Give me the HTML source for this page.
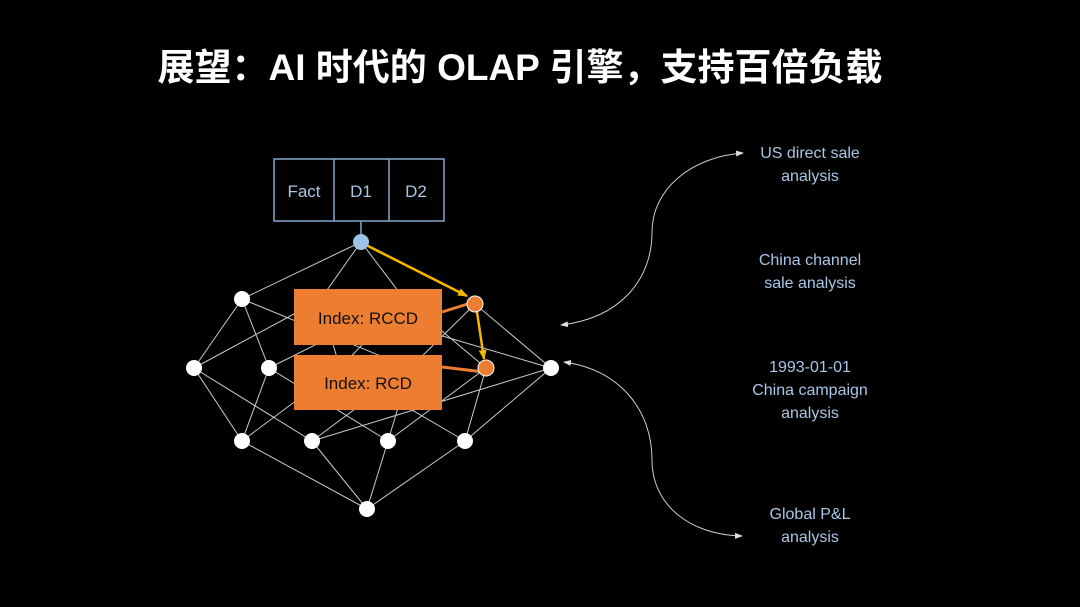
<!DOCTYPE html>
<html><head><meta charset="utf-8"><style>
html,body{margin:0;padding:0;background:#000;}
body{width:1080px;height:607px;overflow:hidden;position:relative;font-family:"Liberation Sans","Noto Sans CJK SC",sans-serif;}
.t{position:absolute;left:0;width:1040px;top:37px;text-align:center;color:#fff;font-size:37px;font-weight:bold;}
.lab{position:absolute;color:#a9c6e6;font-size:16px;text-align:center;width:200px;line-height:23px;}
</style></head><body>
<div class="t">展望：AI 时代的 OLAP 引擎，支持百倍负载</div>
<svg width="1080" height="607" style="position:absolute;left:0;top:0">
<defs>
<marker id="wa" markerWidth="8" markerHeight="8" refX="7" refY="4" orient="auto" markerUnits="userSpaceOnUse"><path d="M0,1 L8,4 L0,7z" fill="#ddd"/></marker>
<marker id="ya" markerWidth="10" markerHeight="10" refX="9" refY="5" orient="auto" markerUnits="userSpaceOnUse"><path d="M0,1 L10,5 L0,9z" fill="#f5b800"/></marker>
</defs>
<g stroke="#ccc" stroke-width="1">
<line x1="361" y1="242" x2="242" y2="299"/><line x1="361" y1="242" x2="320" y2="300"/><line x1="361" y1="242" x2="405" y2="300"/>
<line x1="242" y1="299" x2="194" y2="368"/><line x1="242" y1="299" x2="269" y2="368"/><line x1="242" y1="299" x2="410" y2="368"/>
<line x1="320" y1="300" x2="194" y2="368"/><line x1="320" y1="300" x2="340" y2="368"/><line x1="320" y1="300" x2="551" y2="368"/>
<line x1="405" y1="300" x2="269" y2="368"/><line x1="405" y1="300" x2="340" y2="368"/><line x1="405" y1="300" x2="486" y2="368"/>
<line x1="475" y1="304" x2="410" y2="368"/><line x1="475" y1="304" x2="551" y2="368"/>
<line x1="194" y1="368" x2="242" y2="441"/><line x1="194" y1="368" x2="312" y2="441"/>
<line x1="269" y1="368" x2="242" y2="441"/><line x1="269" y1="368" x2="388" y2="441"/>
<line x1="340" y1="368" x2="242" y2="441"/><line x1="340" y1="368" x2="465" y2="441"/>
<line x1="410" y1="368" x2="312" y2="441"/><line x1="410" y1="368" x2="388" y2="441"/>
<line x1="486" y1="368" x2="388" y2="441"/><line x1="486" y1="368" x2="465" y2="441"/>
<line x1="551" y1="368" x2="312" y2="441"/><line x1="551" y1="368" x2="465" y2="441"/>
<line x1="242" y1="441" x2="367" y2="509"/><line x1="312" y1="441" x2="367" y2="509"/><line x1="388" y1="441" x2="367" y2="509"/><line x1="465" y1="441" x2="367" y2="509"/>
</g>
<g stroke="#86a9cc" stroke-width="1.5" fill="none">
<rect x="274" y="159" width="170" height="62"/><line x1="334" y1="159" x2="334" y2="221"/><line x1="389" y1="159" x2="389" y2="221"/>
<line x1="361" y1="221" x2="361" y2="236"/>
</g>
<g fill="#a9c6e6" font-size="17" text-anchor="middle" font-family="Liberation Sans, sans-serif">
<text x="304" y="197">Fact</text><text x="361" y="197">D1</text><text x="416" y="197">D2</text>
</g>
<rect x="294" y="289" width="148" height="56" fill="#ed7d31"/>
<rect x="294" y="355" width="148" height="55" fill="#ed7d31"/>
<g fill="#111" font-size="17" text-anchor="middle"><text x="368" y="324">Index: RCCD</text><text x="368" y="389">Index: RCD</text></g>
<line x1="442" y1="312" x2="474" y2="302" stroke="#ed7d31" stroke-width="3"/>
<line x1="442" y1="367" x2="484" y2="372" stroke="#ed7d31" stroke-width="3"/>
<line x1="366" y1="245" x2="467" y2="296" stroke="#f5b800" stroke-width="2.5" marker-end="url(#ya)"/>
<line x1="477" y1="312" x2="484" y2="359" stroke="#f5b800" stroke-width="2.5" marker-end="url(#ya)"/>
<circle cx="361" cy="242" r="8" fill="#9dc3e6"/>
<g fill="#fff">
<circle cx="242" cy="299" r="8"/><circle cx="194" cy="368" r="8"/><circle cx="269" cy="368" r="8"/><circle cx="551" cy="368" r="8"/>
<circle cx="242" cy="441" r="8"/><circle cx="312" cy="441" r="8"/><circle cx="388" cy="441" r="8"/><circle cx="465" cy="441" r="8"/><circle cx="367" cy="509" r="8"/>
</g>
<circle cx="475" cy="304" r="8" fill="#ed7d31" stroke="#fff" stroke-width="1"/>
<circle cx="486" cy="368" r="8" fill="#ed7d31" stroke="#fff" stroke-width="1"/>
<path d="M652,232 C652,190 690,157 743,153" stroke="#ccc" fill="none" marker-end="url(#wa)"/>
<path d="M652,232 C652,280 620,318 561,325" stroke="#ccc" fill="none" marker-end="url(#wa)"/>
<path d="M652,460 C652,410 620,370 564,362" stroke="#ccc" fill="none" marker-end="url(#wa)"/>
<path d="M652,460 C652,505 690,535 742,536" stroke="#ccc" fill="none" marker-end="url(#wa)"/>
</svg>
<div class="lab" style="left:710px;top:142px">US direct sale<br>analysis</div>
<div class="lab" style="left:710px;top:249px">China channel<br>sale analysis</div>
<div class="lab" style="left:710px;top:356px">1993-01-01<br>China campaign<br>analysis</div>
<div class="lab" style="left:710px;top:503px">Global P&amp;L<br>analysis</div>
</body></html>
